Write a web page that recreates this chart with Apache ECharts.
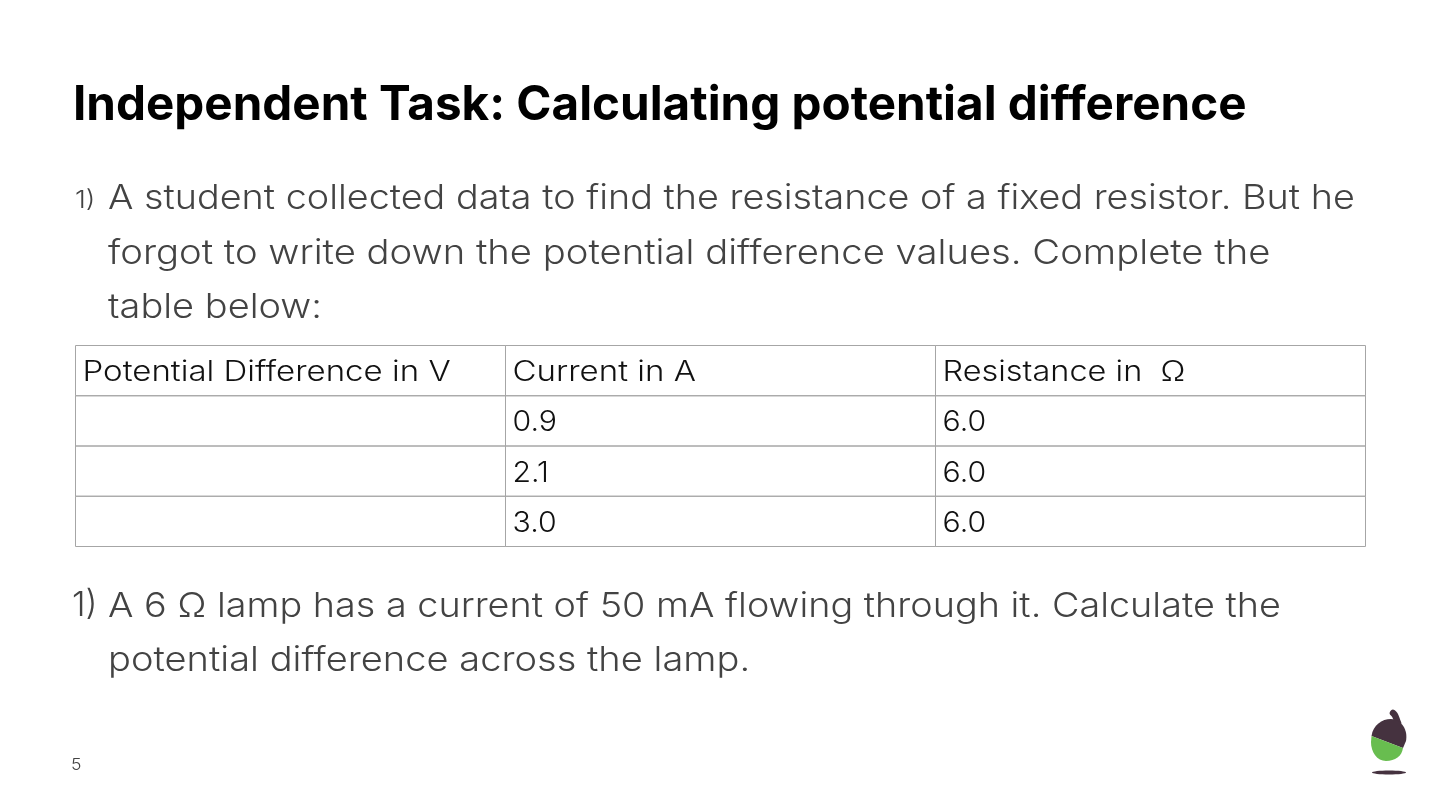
<!DOCTYPE html>
<html>
<head>
<meta charset="utf-8">
<title>Independent Task</title>
<style>html,body{margin:0;padding:0;background:#fff}#main{width:1440px;height:810px}</style>
<script src="https://cdn.jsdelivr.net/npm/echarts@6/dist/echarts.min.js"></script>
</head>
<body>
<div id="main"></div>
<script>
var heading = 'Independent Task: Calculating potential difference';
var taskOne = ['A student collected data to find the resistance of a fixed resistor. But he',
    'forgot to write down the potential difference values. Complete the',
    'table below:'];
var taskTwo = ['A 6 Ω lamp has a current of 50 mA flowing through it. Calculate the',
    'potential difference across the lamp.'];
var pageNumber = '5';

var tableHeaders = ['Potential Difference in V', 'Current in A', 'Resistance in  Ω'];
var potentialDifference = ['', '', ''];
var currents = ['0.9', '2.1', '3.0'];
var resistances = ['6.0', '6.0', '6.0'];

var font = 'Inter';
var bodyColor = '#434343';

// one row per table line: [column, row, text]
var cells = [];
tableHeaders.forEach(function (h, c) { cells.push([c, 0, h]); });
currents.forEach(function (v, i) {
    cells.push([0, i + 1, potentialDifference[i]]);
    cells.push([1, i + 1, v]);
    cells.push([2, i + 1, resistances[i]]);
});

// Montserrat is not installed, Inter stretched a bit sits closest to it
function bodyText(str, x, y, size, stretch) {
    return {
        type: 'text', x: x, y: y, silent: true,
        scaleX: stretch || 1,
        style: {
            text: str, fill: bodyColor,
            font: '300 ' + size + 'px ' + font,
            verticalAlign: 'middle'
        }
    };
}

var elements = [];
elements.push(bodyText('1)', 75, 201, 24, 1.15));
elements.push(bodyText(taskOne[0], 108, 199, 34.5, 1.094));
elements.push(bodyText(taskOne[1], 108, 254, 34.5, 1.108));
elements.push(bodyText(taskOne[2], 108, 308, 34.5, 1.1));
elements.push(bodyText('1)', 72, 606, 34.5, 1));
elements.push(bodyText(taskTwo[0], 108, 607, 34.5, 1.095));
elements.push(bodyText(taskTwo[1], 108, 661, 34.5, 1.103));
elements.push(bodyText(pageNumber, 71, 765, 16, 1.1));

// acorn logo
echarts.graphic.registerShape('acornCap', echarts.graphic.extendPath('M1371.5,736 C1373,725 1382,719 1391,719 C1402,720 1408,730 1406,741 L1403,748 Z'));
echarts.graphic.registerShape('acornBody', echarts.graphic.extendPath('M1371.5,736 L1403,748 C1402,756 1395,761 1386,761 C1377,761 1371,752 1371,742 Z'));
elements.push({ type: 'bezierCurve', silent: true,
    shape: { x1: 1393, y1: 713, cpx1: 1396, cpy1: 715, cpx2: 1396, cpy2: 719, x2: 1398, y2: 723 },
    style: { stroke: '#45323f', lineWidth: 6.5, lineCap: 'round', fill: null } });
elements.push({ type: 'acornCap', silent: true, style: { fill: '#45323f' } });
elements.push({ type: 'acornBody', silent: true, style: { fill: '#68bd4f' } });
elements.push({ type: 'ellipse', silent: true, shape: { cx: 1389, cy: 772.5, rx: 17, ry: 2 },
    style: { fill: '#45323f' } });

var headerStretch = [1.18, 1.18, 1.16];

var chart = echarts.init(document.getElementById('main'), null, { renderer: 'canvas' });
chart.setOption({
    animation: false,
    backgroundColor: '#ffffff',
    title: {
        text: heading, left: 68, top: 77,
        textStyle: { fontFamily: font, fontWeight: 'bold', fontSize: 47.6, color: '#000000' }
    },
    grid: { left: 75.5, top: 345.5, width: 1290, height: 201 },
    xAxis: { type: 'value', min: 0, max: 3, show: false },
    yAxis: { type: 'value', min: 0, max: 4, inverse: true, show: false },
    graphic: elements,
    series: [{
        type: 'custom',
        coordinateSystem: 'cartesian2d',
        data: cells,
        encode: { x: 0, y: 1 },
        silent: true,
        clip: false,
        renderItem: function (params, api) {
            var c = api.value(0), r = api.value(1);
            var tl = api.coord([c, r]);
            var br = api.coord([c + 1, r + 1]);
            return {
                type: 'group',
                children: [{
                    type: 'rect',
                    shape: { x: tl[0], y: tl[1], width: br[0] - tl[0], height: br[1] - tl[1] },
                    style: { fill: 'none', stroke: '#a6a6a6', lineWidth: 1 }
                }, {
                    type: 'text',
                    x: tl[0] + 7, y: (tl[1] + br[1]) / 2 + 2,
                    scaleX: r === 0 ? headerStretch[c] : 1.08,
                    style: {
                        text: cells[params.dataIndex][2], fill: '#111111',
                        font: '300 28px ' + font, verticalAlign: 'middle'
                    }
                }]
            };
        }
    }]
});
</script>
</body>
</html>
